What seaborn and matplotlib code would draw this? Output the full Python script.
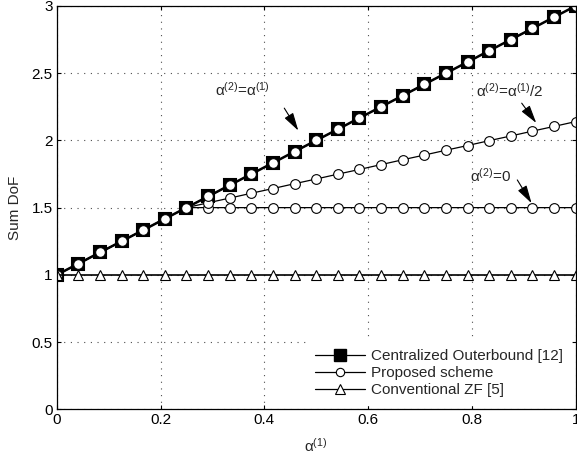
import matplotlib
matplotlib.use('Agg')
import matplotlib.pyplot as plt
from matplotlib.lines import Line2D
import seaborn as sns

# alpha^(1) sample points
alpha = [0, 0.0417, 0.0833, 0.125, 0.1667, 0.2083, 0.25, 0.2917, 0.3333, 0.375,
         0.4167, 0.4583, 0.5, 0.5417, 0.5833, 0.625, 0.6667, 0.7083, 0.75, 0.7917,
         0.8333, 0.875, 0.9167, 0.9583, 1.0]
outer = [1.0, 1.083, 1.167, 1.25, 1.333, 1.417, 1.5, 1.583, 1.667, 1.75, 1.833,
         1.917, 2.0, 2.083, 2.167, 2.25, 2.333, 2.417, 2.5, 2.583, 2.667, 2.75,
         2.833, 2.917, 3.0]
prop_full = [1.0, 1.083, 1.167, 1.25, 1.333, 1.417, 1.5, 1.583, 1.667, 1.75, 1.833,
             1.917, 2.0, 2.083, 2.167, 2.25, 2.333, 2.417, 2.5, 2.583, 2.667, 2.75,
             2.833, 2.917, 3.0]
prop_half = [1.0, 1.083, 1.167, 1.25, 1.333, 1.417, 1.5, 1.536, 1.571, 1.607, 1.642,
             1.678, 1.713, 1.749, 1.784, 1.82, 1.856, 1.891, 1.927, 1.962, 1.998,
             2.033, 2.069, 2.104, 2.14]
prop_zero = [1.0, 1.083, 1.167, 1.25, 1.333, 1.417, 1.5, 1.5, 1.5, 1.5, 1.5, 1.5,
             1.5, 1.5, 1.5, 1.5, 1.5, 1.5, 1.5, 1.5, 1.5, 1.5, 1.5, 1.5, 1.5]
zf = [1.0] * 25

labels = ['Centralized Outerbound [12]', 'Proposed scheme', 'Conventional ZF [5]']

sns.set_style('ticks')
plt.rcParams['font.family'] = ['Liberation Sans', 'DejaVu Sans']
plt.rcParams['mathtext.default'] = 'regular'
plt.rcParams['font.size'] = 11

fig = plt.figure(figsize=(5.77, 4.58), dpi=100)
ax = fig.add_axes([0.0983, 0.1063, 0.8994, 0.8807])

sns.lineplot(x=alpha, y=outer, ax=ax, color='k', lw=1.8, marker='s', markersize=9,
             markerfacecolor='k', markeredgecolor='k', markeredgewidth=1.5)
circ = dict(color='k', lw=0.9, marker='o', markersize=7, markerfacecolor='w',
            markeredgecolor='k', markeredgewidth=0.8)
for ys in (prop_zero, prop_half, prop_full):
    sns.lineplot(x=alpha, y=ys, ax=ax, **circ)
sns.lineplot(x=alpha, y=zf, ax=ax, color='k', lw=1.2, marker='^', markersize=7.5,
             markerfacecolor='w', markeredgecolor='k', markeredgewidth=0.8)

ax.set_xlim(0, 1)
ax.set_ylim(0, 3)
ax.set_xticks([0, 0.2, 0.4, 0.6, 0.8, 1])
ax.set_xticklabels(['0', '0.2', '0.4', '0.6', '0.8', '1'])
ax.set_yticks([0, 0.5, 1, 1.5, 2, 2.5, 3])
ax.set_yticklabels(['0', '0.5', '1', '1.5', '2', '2.5', '3'])
ax.grid(True, color='0.3', linestyle=(0, (1, 5)), linewidth=0.8)
ax.tick_params(direction='in', top=True, right=True, length=3, width=0.8,
               colors='k', labelsize=11, pad=3)
for sp in ax.spines.values():
    sp.set_color('k')
    sp.set_linewidth(0.9)
ax.set_xlabel(r'$\alpha^{(1)}$', fontsize=11, labelpad=7)
ax.set_ylabel('Sum DoF', fontsize=11, labelpad=7)

arrow = dict(arrowstyle='-|>,head_length=1.0,head_width=0.28', color='k', lw=0.8,
             shrinkA=0, shrinkB=0)
ax.annotate('', xy=(0.4655, 2.073), xytext=(0.4385, 2.24), arrowprops=arrow)
ax.text(0.357, 2.376, r'$\alpha^{(2)}$=$\alpha^{(1)}$', ha='center', va='center', fontsize=11)
ax.annotate('', xy=(0.924, 2.13), xytext=(0.896, 2.277), arrowprops=arrow)
ax.text(0.874, 2.369, r'$\alpha^{(2)}$=$\alpha^{(1)}$/2', ha='center', va='center', fontsize=11)
ax.annotate('', xy=(0.915, 1.533), xytext=(0.8875, 1.706), arrowprops=arrow)
ax.text(0.837, 1.736, r'$\alpha^{(2)}$=0', ha='center', va='center', fontsize=11)

handles = [
    Line2D([], [], color='k', lw=0.9, marker='s', markersize=8, markerfacecolor='k',
           markeredgecolor='k'),
    Line2D([], [], color='k', lw=0.9, marker='o', markersize=6, markerfacecolor='w',
           markeredgecolor='k', markeredgewidth=0.8),
    Line2D([], [], color='k', lw=0.9, marker='^', markersize=7, markerfacecolor='w',
           markeredgecolor='k', markeredgewidth=0.8),
]
leg = ax.legend(handles, labels, loc='lower right', frameon=True, fontsize=11,
                handlelength=3.3, handletextpad=0.4, labelspacing=0.2,
                borderpad=0.5, borderaxespad=0.3, fancybox=False)
leg.get_frame().set_edgecolor('w')
leg.get_frame().set_facecolor('w')
leg.get_frame().set_alpha(1)

fig.savefig('out.png', dpi=100)
